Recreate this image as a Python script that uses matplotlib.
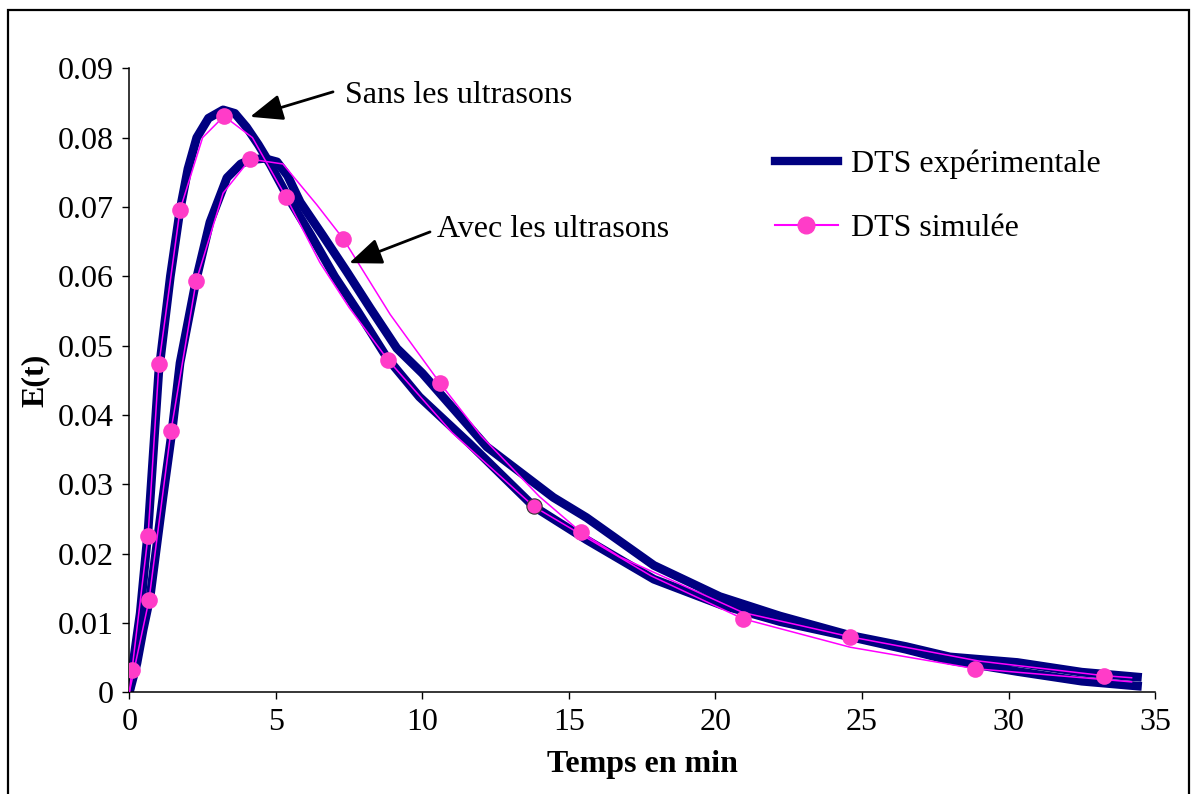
import numpy as np
import matplotlib
matplotlib.use("Agg")
import matplotlib.pyplot as plt
from matplotlib.patches import Rectangle

plt.rcParams['font.family'] = ['Liberation Serif', 'DejaVu Serif']

t_sans = [0, 0.13, 0.37, 0.64, 1.0, 1.4, 1.73, 2.0, 2.3, 2.7, 3.2, 3.6, 4.0, 4.4, 4.8,
          5.4, 6.2, 7.0, 7.8, 8.8, 9.9, 11.6, 13.8, 15.6, 17.9, 20.2, 22.2, 24.6,
          26.5, 28.0, 30.3, 32.5, 34.4]
e_sans = [0, 0.0042, 0.0114, 0.0234, 0.046, 0.060, 0.0696, 0.0755, 0.0800, 0.0828,
          0.0840, 0.0835, 0.0815, 0.0790, 0.0762, 0.0715, 0.0659, 0.0600, 0.0549,
          0.0482, 0.0426, 0.0359, 0.0268, 0.0220, 0.0163, 0.0126, 0.0102, 0.0080,
          0.0062, 0.0046, 0.0030, 0.0016, 0.0009]

# experimental RTD, with ultrasound
t_avec = [0, 0.26, 0.47, 0.71, 1.15, 1.46, 1.73, 2.28, 2.75, 3.33, 3.8, 4.12, 4.6,
          5.04, 5.4, 5.83, 6.6, 7.43, 8.22, 9.13, 10.0, 12.2, 14.47, 15.6, 17.9,
          20.15, 22.2, 24.6, 26.5, 28.0, 30.3, 32.5, 34.4]
e_avec = [0, 0.0042, 0.009, 0.0138, 0.0282, 0.0378, 0.0475, 0.0595, 0.0678, 0.0742,
          0.0762, 0.0768, 0.0770, 0.0765, 0.0745, 0.0707, 0.0659, 0.0606, 0.0554,
          0.0496, 0.0460, 0.0354, 0.0281, 0.0252, 0.0183, 0.0138, 0.0110, 0.0082,
          0.0066, 0.0051, 0.0043, 0.0029, 0.0022]

# simulated curves (thin lines)
t_sim_sans = [0, 0.09, 0.64, 1.01, 1.73, 2.5, 3.23, 4.2, 5.35, 6.5, 7.5, 8.83, 11.0,
              13.8, 17.8, 20.94, 24.6, 28.87, 34.2]
e_sim_sans = [0, 0.0032, 0.0226, 0.0474, 0.0696, 0.0800, 0.0831, 0.0800, 0.0714,
              0.0620, 0.0555, 0.0479, 0.0375, 0.0268, 0.0168, 0.0106, 0.0065,
              0.0034, 0.0015]
t_sim_avec = [0, 0.67, 1.42, 2.28, 3.2, 4.12, 5.24, 6.4, 7.3, 8.9, 10.6, 12.0, 14.0,
              15.41, 16.75, 20.94, 24.6, 29.0, 33.25, 34.2]
e_sim_avec = [0, 0.0133, 0.0377, 0.0593, 0.0720, 0.0769, 0.0762, 0.0703, 0.0654,
              0.0545, 0.0446, 0.0370, 0.0282, 0.0231, 0.0195, 0.0115, 0.0080,
              0.0045, 0.0024, 0.0021]

# marker points on the simulated curves
t_mk_sans = [0.09, 0.64, 1.01, 1.73, 3.23, 5.35, 8.83, 20.94, 28.87]
e_mk_sans = [0.0032, 0.0226, 0.0474, 0.0696, 0.0831, 0.0714, 0.0479, 0.0106, 0.0034]
t_mk_avec = [0.67, 1.42, 2.28, 4.12, 7.3, 10.6, 15.41, 24.6, 33.25]
e_mk_avec = [0.0133, 0.0377, 0.0593, 0.0769, 0.0654, 0.0446, 0.0231, 0.0080, 0.0024]
t_mk_edge = [13.8]
e_mk_edge = [0.0268]

x_ticks = [0, 5, 10, 15, 20, 25, 30, 35]
y_ticks = [0, 0.01, 0.02, 0.03, 0.04, 0.05, 0.06, 0.07, 0.08, 0.09]
y_ticklabels = ['0', '0.01', '0.02', '0.03', '0.04', '0.05', '0.06', '0.07', '0.08', '0.09']

NAVY = '#000080'
MAGENTA = '#FF00FF'
PINK = '#FF3CC8'
FS = 23

fig = plt.figure(figsize=(11.91, 7.94), dpi=100)
ax = fig.add_axes([0.1086, 0.1281, 0.8612, 0.7859])

ax.plot(t_sans, e_sans, color=NAVY, lw=6.3, solid_joinstyle='round', zorder=2)
ax.plot(t_avec, e_avec, color=NAVY, lw=6.3, solid_joinstyle='round', zorder=2)
ax.plot(t_sim_sans, e_sim_sans, color=MAGENTA, lw=1.1, zorder=3)
ax.plot(t_sim_avec, e_sim_avec, color=MAGENTA, lw=1.1, zorder=3)
ax.plot(t_mk_sans, e_mk_sans, 'o', color=PINK, ms=12, mew=0, zorder=4)
ax.plot(t_mk_avec, e_mk_avec, 'o', color=PINK, ms=12, mew=0, zorder=4)
ax.plot(t_mk_edge, e_mk_edge, 'o', mfc=PINK, mec='#333333', ms=11, mew=0.8, zorder=4)

ax.set_xlim(0, 35)
ax.set_ylim(0, 0.09)
ax.set_xticks(x_ticks)
ax.set_xticklabels([str(v) for v in x_ticks])
ax.set_yticks(y_ticks)
ax.set_yticklabels(y_ticklabels)
ax.tick_params(labelsize=FS, length=5, width=1, direction='out', pad=6)
for s in ['top', 'right']:
    ax.spines[s].set_visible(False)
for s in ['left', 'bottom']:
    ax.spines[s].set_linewidth(1.1)

ax.set_xlabel('Temps en min', fontsize=FS, fontweight='bold', labelpad=10)
ax.set_ylabel('E(t)', fontsize=FS, fontweight='bold', labelpad=6)

# legend
h1, = ax.plot([], [], color=NAVY, lw=6)
h2, = ax.plot([], [], color=MAGENTA, lw=1.5, marker='o', mfc=PINK, mec=PINK, ms=12)
ax.legend([h1, h2], ['DTS expérimentale', 'DTS simulée'], loc='upper left',
          bbox_to_anchor=(0.629, 0.870), frameon=False, fontsize=FS,
          handlelength=2.0, handletextpad=0.4, labelspacing=1.1,
          borderpad=0, borderaxespad=0)

arrow = dict(arrowstyle='-|>,head_length=1.0,head_width=0.4', color='black',
             lw=2, mutation_scale=20, shrinkA=0, shrinkB=0)
ax.annotate('', xy=(4.12, 0.0830), xytext=(6.95, 0.0866), arrowprops=arrow)
ax.text(7.36, 0.0861, 'Sans les ultrasons', fontsize=FS, va='center', ha='left')
ax.annotate('', xy=(7.5, 0.0619), xytext=(10.26, 0.0664), arrowprops=arrow)
ax.text(10.5, 0.0667, 'Avec les ultrasons', fontsize=FS, va='center', ha='left')

# outer frame around the chart
fig.patches.append(Rectangle((8 / 1191, -0.02), 1181 / 1191, 1.02 - 10 / 794,
                             transform=fig.transFigure, fill=False,
                             edgecolor='black', lw=1.6, clip_on=False))

fig.savefig('out.png', dpi=100)
